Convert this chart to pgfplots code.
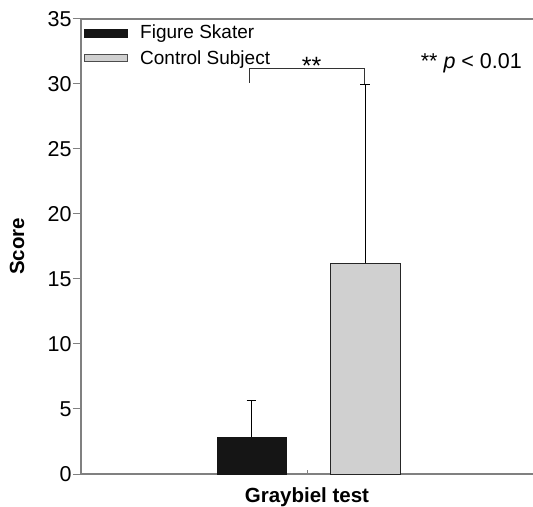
\documentclass[border=0pt]{standalone}
\usepackage{fontspec}
\setmainfont{Liberation Sans}
\usepackage{pgfplots}
\pgfplotsset{compat=1.18}
\definecolor{axgray}{HTML}{808080}
\definecolor{barblack}{HTML}{151515}
\definecolor{bargray}{HTML}{D0D0D0}
\begin{document}
\begin{tikzpicture}
\begin{axis}[
  at={(81bp,33bp)}, anchor=south west,
  scale only axis, width=452bp, height=455bp,
  xmin=0, xmax=1, ymin=0, ymax=35,
  axis x line*=bottom, axis y line*=left,
  axis line style={axgray, line width=1.2bp, -},
  ytick={0,5,...,35},
  xtick=\empty,
  tick align=outside,
  major tick length=8bp,
  ytick style={axgray, line width=1bp},
  /pgf/number format/assume math mode=true,
  yticklabel style={font=\fontsize{21.5bp}{24bp}\selectfont, xshift=2bp},
  ylabel={\textbf{Score}},
  ylabel style={at={(axis description cs:-0.1416,0.5)}, anchor=center, font=\fontsize{20.5bp}{24bp}\selectfont},
  xlabel={\textbf{Graybiel test}},
  xlabel style={at={(axis description cs:0.5,-0.0505)}, anchor=center, font=\fontsize{20.5bp}{24bp}\selectfont},
  legend style={at={(axis description cs:0,1)}, anchor=north west, draw=none, fill=none,
    font=\fontsize{19bp}{22bp}\selectfont, inner xsep=0bp, inner ysep=4bp, row sep=6bp},
  legend cell align=left,
  clip=false,
]
\addplot[ybar, bar width=0.153, bar shift=0pt, fill=barblack, draw=barblack,
  legend image code/.code={\draw[fill=barblack, draw=barblack] (3bp,-4bp) rectangle (46bp,4bp); \path[draw=none, fill=none] (0bp,0bp) -- (57bp,0bp);},
  error bars/.cd, y dir=plus, y explicit,
  error bar style={black, line width=0.9bp},
  error mark options={rotate=90, black, line width=0.9bp, mark size=4.7bp}]
  coordinates {(0.3769,2.85) +- (0,2.8)};
\addlegendentry{Figure Skater}
\addplot[ybar, bar width=0.153, bar shift=0pt, fill=bargray, draw=black!85, line width=0.7bp,
  legend image code/.code={\draw[fill=bargray, draw=black!70, line width=0.7bp] (3bp,-3.5bp) rectangle (46bp,3.5bp); \path[draw=none, fill=none] (0bp,0bp) -- (57bp,0bp);},
  error bars/.cd, y dir=plus, y explicit,
  error bar style={black, line width=0.9bp},
  error mark options={rotate=90, black, line width=0.9bp, mark size=4.9bp}]
  coordinates {(0.6291,16.2) +- (0,13.8)};
\addlegendentry{Control Subject}
\draw[axgray, line width=1.2bp] (rel axis cs:0,1) -- (rel axis cs:1,1);
\draw[axgray, line width=0.8bp] (axis cs:0.5,0) -- ++(0,4bp);
\draw[black!80, line width=1bp] (axis cs:0.3723,30.08) |- (axis cs:0.6283,31.23) -- (axis cs:0.6283,30.0);
\node[anchor=base, font=\fontsize{25bp}{28bp}\selectfont, inner sep=0pt] at (axis cs:0.51,30.7) {**};
\node[anchor=base east, font=\fontsize{21.5bp}{25bp}\selectfont, inner sep=0pt] at (axis cs:0.9757,31.23) {** \textit{p} < 0.01};
\end{axis}
\pgfresetboundingbox
\useasboundingbox (0,0) rectangle (533bp,507bp);
\end{tikzpicture}
\end{document}
